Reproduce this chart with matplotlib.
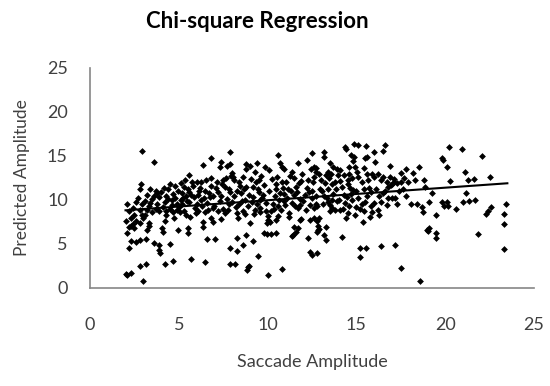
import matplotlib
matplotlib.use("Agg")
import matplotlib.pyplot as plt

plt.rcParams['font.family'] = ['Lato', 'DejaVu Sans']

# scatter values, one line per unit of saccade amplitude
saccade_amp = (
    [2.0, 2.1, 2.3, 2.2, 2.3, 2.1, 2.2, 2.4, 2.0, 2.3, 2.5, 2.2, 2.4, 2.1, 2.6, 2.3, 2.5, 2.6, 2.8, 2.8,
     2.8, 2.9, 2.84, 2.88, 2.94, 2.7, 2.9, 2.8, 2.6]
    + [3.0, 3.16, 3.16, 3.2, 3.3, 3.35, 3.0, 3.1, 3.2, 3.3, 3.4, 3.5, 3.6, 3.1, 3.7, 3.8, 3.9, 3.6, 3.63, 3.9,
       3.9, 3.95, 3.5, 3.8, 3.4, 3.7, 3.2, 3.9]
    + [4.05, 4.1, 4.2, 4.2, 4.3, 4.5, 4.67, 4.75, 4.95, 4.1, 4.2, 4.3, 4.4, 4.5, 4.6, 4.7, 4.8, 4.9, 4.0, 4.5,
       4.3, 4.6, 4.8, 4.95, 4.15, 4.7, 4.4, 4.9]
    + [5.0, 5.1, 5.2, 5.3, 5.4, 5.5, 5.5, 5.6, 5.65, 5.67, 5.1, 5.2, 5.3, 5.4, 5.5, 5.6, 5.7, 5.8, 5.9, 5.05,
       5.35, 5.75, 5.45, 5.85, 5.95, 5.25, 5.55]
    + [6.0, 6.1, 6.2, 6.27, 6.37, 6.37, 6.37, 6.5, 6.6, 6.8, 6.84, 6.8, 6.93, 6.1, 6.3, 6.4, 6.5, 6.6, 6.7, 6.8,
       6.9, 6.05, 6.45, 6.75, 6.55, 6.25, 6.95, 6.65, 6.15]
    + [7.03, 7.1, 7.2, 7.3, 7.4, 7.5, 7.6, 7.7, 7.87, 7.9, 7.87, 7.87, 7.0, 7.2, 7.3, 7.4, 7.5, 7.6, 7.7, 7.8,
       7.9, 7.15, 7.45, 7.65, 7.85, 7.35, 7.75, 7.95]
    + [8.0, 8.05, 8.1, 8.15, 8.25, 8.3, 8.4, 8.6, 8.6, 8.78, 8.8, 8.85, 8.9, 8.95, 8.8, 8.0, 8.1, 8.2, 8.3, 8.4,
       8.5, 8.6, 8.7, 8.8, 8.9, 8.25, 8.45, 8.65, 8.95, 8.35, 8.55, 8.75]
    + [9.0, 9.0, 9.15, 9.2, 9.3, 9.47, 9.5, 9.85, 9.95, 9.95, 9.8, 9.1, 9.2, 9.3, 9.4, 9.5, 9.6, 9.7, 9.8, 9.9,
       9.05, 9.35, 9.65, 9.25, 9.55, 9.75, 9.45, 9.9, 9.4, 9.6]
    + [10.0, 10.0, 10.1, 10.05, 10.2, 10.15, 10.45, 10.5, 10.6, 10.6, 10.7, 10.8, 10.8, 10.95, 10.2, 10.3, 10.4,
       10.5, 10.6, 10.7, 10.8, 10.9, 10.1, 10.25, 10.55, 10.85, 10.35, 10.65, 10.95, 10.45, 10.75]
    + [11.2, 11.2, 11.35, 11.5, 11.6, 11.45, 11.7, 11.7, 11.7, 11.8, 11.9, 11.5, 11.0, 11.1, 11.3, 11.4, 11.5,
       11.6, 11.8, 11.9, 11.05, 11.25, 11.55, 11.75, 11.85, 11.15, 11.65, 11.35, 11.95]
    + [12.2, 12.3, 12.4, 12.5, 12.5, 12.5, 12.6, 12.7, 12.8, 12.4, 12.6, 12.8, 12.9, 12.8, 12.86, 12.9, 12.86,
       12.6, 12.7, 12.8, 12.0, 12.1, 12.2, 12.3, 12.4, 12.5, 12.6, 12.7, 12.9, 12.15, 12.35, 12.55, 12.75, 12.95,
       12.45]
    + [13.15, 13.15, 13.2, 13.3, 13.3, 13.3, 13.4, 13.5, 13.5, 13.7, 13.4, 13.6, 13.0, 13.8, 13.9, 13.95, 13.1,
       13.2, 13.4, 13.5, 13.6, 13.7, 13.8, 13.9, 13.05, 13.25, 13.45, 13.65, 13.85, 13.55, 13.35]
    + [14.05, 14.0, 14.1, 14.2, 14.3, 14.35, 14.37, 14.4, 14.5, 14.6, 14.6, 14.7, 14.75, 14.8, 14.84, 14.85, 14.9,
       14.75, 14.8, 14.9, 14.2, 14.3, 14.5, 14.6, 14.7, 14.1, 14.4, 14.55, 14.95, 14.65, 14.25, 14.45]
    + [15.03, 15.07, 15.2, 15.2, 15.35, 15.55, 15.55, 15.5, 15.6, 15.6, 15.9, 15.97, 15.1, 15.4, 15.2, 15.3, 15.4,
       15.5, 15.6, 15.7, 15.8, 15.9, 15.0, 15.1, 15.3, 15.45, 15.65, 15.85, 15.75]
    + [16.06, 16.0, 16.2, 16.4, 16.4, 16.5, 16.5, 16.6, 16.4, 16.2, 16.3, 16.1, 16.6, 16.7, 16.8, 16.9, 16.9,
       16.95, 16.3, 16.5, 16.7, 16.0, 16.8]
    + [17.0, 17.1, 17.0, 17.15, 17.2, 17.1, 17.5, 17.5, 17.5, 17.8, 17.7, 17.6, 17.3, 17.8, 17.4, 17.9, 17.3]
    + [18.1, 18.2, 18.3, 18.4, 18.5, 18.6, 18.7, 18.76, 18.8, 18.85]
    + [19.0, 19.1, 19.05, 19.1, 19.27, 19.5, 19.5, 19.5, 19.8, 19.95, 20.1, 20.15, 19.83, 19.9, 20.1]
    + [20.2, 20.27, 20.6, 20.96, 21.0, 21.1, 21.15, 21.3, 21.35, 21.6, 21.7, 21.85, 22.1, 22.3, 22.4, 22.5, 22.56,
       23.3, 23.3, 23.3, 23.4]
)
predicted_amp = (
    [1.6, 1.5, 1.7, 4.5, 5.3, 6.2, 6.9, 7.3, 7.6, 8.0, 8.3, 8.7, 9.1, 9.5, 9.8, 7.0, 6.8, 7.6, 2.5, 5.45,
     8.9, 9.6, 11.3, 11.8, 15.6, 10.2, 8.3, 7.4, 5.2]
    + [0.75, 2.7, 5.6, 6.6, 7.0, 7.4, 8.0, 8.3, 8.9, 9.3, 9.7, 10.1, 10.5, 9.9, 9.0, 9.5, 10.3, 14.35, 5.1, 4.9,
       4.3, 4.0, 8.6, 10.8, 11.2, 11.0, 10.6, 8.7]
    + [6.8, 6.4, 2.7, 7.6, 8.3, 4.95, 3.07, 8.0, 6.6, 9.2, 9.8, 10.4, 11.3, 9.0, 10.0, 10.7, 11.6, 9.5, 10.9, 11.8,
       8.8, 9.4, 10.2, 11.0, 11.4, 8.6, 10.1, 8.9]
    + [9.2, 10.0, 10.8, 11.5, 8.3, 6.2, 6.85, 12.85, 8.1, 3.3, 11.9, 9.5, 8.7, 10.4, 11.2, 9.8, 10.6, 11.6, 9.1, 8.6,
       12.3, 12.0, 9.9, 10.3, 8.5, 10.2, 10.9]
    + [9.5, 10.6, 11.4, 12.1, 14.0, 7.55, 6.9, 2.9, 5.6, 14.8, 12.5, 7.9, 7.5, 8.8, 9.3, 10.2, 11.0, 9.7, 10.8, 11.6,
       9.1, 12.0, 8.6, 10.3, 12.3, 10.0, 10.5, 8.9, 11.0]
    + [5.6, 11.4, 10.9, 13.8, 14.35, 12.3, 11.5, 13.9, 15.5, 14.1, 4.6, 2.7, 9.3, 8.8, 9.9, 10.4, 9.0, 8.5, 10.1, 9.6,
       10.9, 12.0, 11.8, 12.5, 11.2, 7.8, 8.9, 12.7]
    + [13.1, 12.6, 12.3, 2.75, 5.65, 4.2, 12.0, 4.9, 12.6, 14.05, 6.0, 2.05, 2.4, 2.5, 13.5, 9.8, 10.5, 9.2, 11.0, 9.6,
       10.8, 8.8, 10.0, 11.5, 9.3, 8.5, 11.6, 11.2, 10.6, 7.9, 9.9, 8.4]
    + [7.35, 13.9, 5.35, 11.5, 13.2, 3.64, 12.3, 13.8, 7.35, 6.15, 6.2, 9.8, 10.3, 8.9, 9.5, 10.9, 9.1, 10.2, 11.7, 9.7,
       12.4, 12.0, 12.7, 8.4, 8.6, 10.6, 11.3, 8.8, 14.2, 10.0]
    + [1.5, 7.7, 13.4, 8.2, 8.75, 7.5, 6.2, 7.7, 8.2, 15.1, 14.2, 13.8, 2.2, 13.5, 6.15, 9.6, 10.4,
       11.2, 9.3, 10.8, 12.0, 9.9, 11.0, 12.4, 12.6, 11.4, 9.0, 10.0, 10.7, 11.8, 8.9]
    + [8.5, 8.1, 5.9, 6.95, 6.4, 6.0, 6.8, 14.2, 9.05, 7.7, 7.8, 12.5, 9.4, 10.2, 11.0, 9.7, 10.6,
       11.5, 10.1, 12.2, 12.0, 12.7, 9.3, 11.9, 9.4, 11.3, 10.9, 13.2, 13.0]
    + [14.5, 5.65, 4.1, 15.3, 10.2, 3.7, 13.8, 13.6, 3.95, 7.7, 7.9, 7.6, 7.9, 6.4, 6.6, 6.7, 7.0,
       9.1, 9.6, 9.3, 9.9, 10.6, 11.4, 12.3, 9.4, 11.0, 12.6, 13.2, 12.9, 8.9, 10.9, 12.0, 10.5, 11.3,
       13.5]
    + [15.5, 14.9, 6.0, 5.5, 6.9, 12.85, 13.2, 14.2, 8.8, 13.8, 9.8, 10.0, 12.3, 8.9, 13.5, 12.8, 9.6,
       10.5, 11.3, 9.4, 11.8, 10.7, 12.0, 9.9, 11.0, 11.9, 12.5, 9.1, 11.2, 13.0, 10.2]
    + [13.4, 10.0, 8.9, 5.76, 12.85, 9.7, 16.05, 15.75, 8.5, 13.0, 13.8, 15.1, 10.0, 14.4, 16.4, 14.9, 13.8,
       12.5, 11.1, 8.3, 11.5, 10.6, 11.8, 9.3, 10.7, 12.2, 8.0, 12.3, 9.2, 11.4, 9.0, 10.3]
    + [13.2, 16.2, 4.6, 3.56, 7.5, 4.5, 16.1, 14.8, 14.9, 13.0, 13.0, 15.5, 12.65, 13.6, 9.0, 9.6, 8.7,
       9.8, 10.5, 11.4, 9.3, 8.6, 11.0, 10.2, 12.0, 11.2, 12.3, 10.9, 8.1]
    + [14.35, 12.6, 13.0, 4.77, 12.3, 12.65, 15.6, 16.3, 9.8, 8.9, 10.4, 11.2, 11.0, 9.4, 10.2, 13.9, 12.6,
       11.7, 8.3, 10.8, 12.0, 9.7, 11.5]
    + [10.2, 12.1, 11.8, 4.9, 10.2, 12.4, 13.1, 12.1, 2.24, 13.5, 12.5, 11.3, 9.5, 10.4, 11.0, 12.0, 11.9]
    + [9.5, 13.1, 12.3, 9.6, 13.7, 0.83, 9.2, 8.6, 12.3, 11.45]
    + [6.6, 6.85, 6.5, 9.8, 10.8, 8.3, 6.2, 5.65, 9.8, 9.3, 9.8, 9.35, 14.75, 14.5, 13.7]
    + [16.0, 12.15, 9.0, 15.8, 9.8, 13.2, 10.8, 12.3, 9.9, 12.35, 10.0, 6.1, 15.0, 8.4, 8.7, 12.65, 9.2,
       8.4, 7.3, 4.4, 9.5]
)

# regression line end points
fit_x = [2.0, 23.5]
fit_y = [8.83, 11.9]

x_ticks = [0, 5, 10, 15, 20, 25]
y_ticks = [0, 5, 10, 15, 20, 25]

fig = plt.figure(figsize=(5.5, 3.86), dpi=100)
ax = fig.add_axes([90 / 550, 1 - 288 / 386, 444 / 550, 220 / 386])

ax.scatter(saccade_amp, predicted_amp, marker='D', s=12, c='black', linewidths=0)
ax.plot(fit_x, fit_y, color='black', linewidth=1.5)

ax.set_xlim(0, 25)
ax.set_ylim(0, 25)
ax.set_xticks(x_ticks)
ax.set_yticks(y_ticks)
ax.tick_params(length=0, labelsize=13, colors='#404040')
ax.tick_params(axis='x', pad=21)
ax.tick_params(axis='y', pad=16)
for side in ('top', 'right'):
    ax.spines[side].set_visible(False)
for side in ('left', 'bottom'):
    ax.spines[side].set_color('#868686')
    ax.spines[side].set_linewidth(1.2)

ax.set_xlabel('Saccade Amplitude', fontsize=13, color='#404040', labelpad=15)
ax.set_ylabel('Predicted Amplitude', fontsize=12.5, color='#404040', labelpad=12)
fig.text(257 / 550, 1 - 21 / 386, 'Chi-square Regression', ha='center', va='center',
         fontsize=16, fontweight='bold', color='black')

fig.savefig('out.png', dpi=100)
